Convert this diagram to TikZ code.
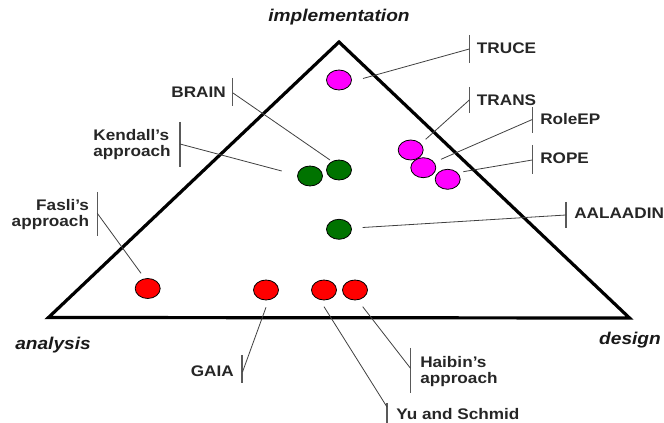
\documentclass[tikz,border=0pt]{standalone}
\usepackage{fontspec}
\setmainfont{Liberation Sans}[FakeStretch=1.12]
\usetikzlibrary{shapes.geometric}
\definecolor{dotgreen}{RGB}{0,115,0}
\definecolor{dotmag}{RGB}{255,0,255}
\definecolor{dotred}{RGB}{255,0,0}
\begin{document}
\begin{tikzpicture}[x=0.75pt,y=-0.75pt,
  tri/.style={line width=2.4pt, line join=miter},
  dot/.style={ellipse, draw=black, line width=0.6pt, inner sep=0pt,
    minimum width=18.75pt, minimum height=15pt},
  mag/.style={dot, fill=dotmag},
  grn/.style={dot, fill=dotgreen},
  rd/.style={dot, fill=dotred},
  lbl/.style={font=\bfseries\fontsize{11.5}{11.8}\selectfont, inner sep=0pt, text=black!85},
  axislbl/.style={font=\bfseries\itshape\fontsize{12.8}{15}\selectfont, inner sep=0pt, text=black!90},
  tick/.style={draw=black!65, line width=0.9pt},
  conn/.style={draw=black!75, line width=0.6pt}]
\useasboundingbox (0,0) rectangle (664,423);

% triangle
\coordinate (apex) at (339,42);
\coordinate (bl) at (48.5,317.5);
\coordinate (br) at (629.5,318);
\draw[tri] (apex) -- (bl) -- (br) -- cycle;

% axis labels
\node[axislbl] (impl) at (339,17) {implementation};
\node[axislbl] (ana) at (53,345) {analysis};
\node[axislbl] (des) at (630,340) {design};

% dots
\node[mag] (m1) at (339,80) {};
\node[mag] (m2) at (410.7,150) {};
\node[mag] (m3) at (423.3,167.7) {};
\node[mag] (m4) at (447.7,179.3) {};
\node[grn] (g1) at (339,170) {};
\node[grn] (g2) at (310,176) {};
\node[grn] (g3) at (339,229.3) {};
\node[rd] (r1) at (147.7,288.5) {};
\node[rd] (r2) at (266,290) {};
\node[rd] (r3) at (324,290) {};
\node[rd] (r4) at (355,290) {};

% labels
\node[lbl, anchor=base west] (truce) at (476.7,53.5) {TRUCE};
\node[lbl, anchor=base west] (trans) at (476.7,105.5) {TRANS};
\node[lbl, anchor=base west] (roleep) at (540,124.8) {RoleEP};
\node[lbl, anchor=base west] (rope) at (540,163.8) {ROPE};
\node[lbl, anchor=base west] (aalaadin) at (574,218.8) {AALAADIN};
\node[lbl, anchor=base east] (brain) at (226,97.5) {BRAIN};
\node[lbl, anchor=north east, align=left] (kendall) at (171,129.3) {Kendall's\\approach};
\node[lbl, anchor=north east, align=right] (fasli) at (89.3,199.3) {Fasli's\\approach};
\node[lbl, anchor=base east] (gaia) at (234,376.2) {GAIA};
\node[lbl, anchor=north west, align=left] (haibin) at (420,356.6) {Haibin's\\approach};
\node[lbl, anchor=base west] (yu) at (396,420) {Yu and Schmid};

% bars
\draw[tick] (469.3,35) -- (469.3,63);
\draw[tick] (469.3,87) -- (469.3,113);
\draw[tick] (532.3,107) -- (532.3,133);
\draw[tick] (532.3,145) -- (532.3,174);
\draw[tick] (566,202) -- (566,228);
\draw[tick] (232.7,78) -- (232.7,106);
\draw[tick] (180,122) -- (180,167);
\draw[tick] (97.3,192) -- (97.3,236);
\draw[tick] (242,355) -- (242,383);
\draw[tick] (410.5,348) -- (410.5,392.7);
\draw[tick] (387,403) -- (387,430);

% connector end points
\coordinate (truceB) at (469.3,49);
\coordinate (transB) at (469.3,100);
\coordinate (roleepB) at (532.3,119.5);
\coordinate (ropeB) at (532.3,160);
\coordinate (aalaadinB) at (566,215);
\coordinate (brainB) at (233,93);
\coordinate (kendallB) at (180,144);
\coordinate (fasliB) at (97.3,213.3);
\coordinate (gaiaB) at (242.5,372);
\coordinate (yuB) at (387,407);
\coordinate (haibinB) at (410.5,368.3);

\coordinate (m1E) at (363,78.5);
\coordinate (m2E) at (425.7,139.3);
\coordinate (m3E) at (441,159.3);
\coordinate (m4E) at (463.3,171.7);
\coordinate (g3E) at (362.7,227.5);
\coordinate (g1E) at (330,160);
\coordinate (g2E) at (281.7,171);
\coordinate (r1E) at (141,273.3);
\coordinate (r2E) at (266,307.3);
\coordinate (r3E) at (324,306.7);
\coordinate (r4E) at (362.7,306.7);

% connectors
\draw[conn] (truceB) -- (m1E);
\draw[conn] (transB) -- (m2E);
\draw[conn] (roleepB) -- (m3E);
\draw[conn] (ropeB) -- (m4E);
\draw[conn] (aalaadinB) -- (g3E);
\draw[conn] (brainB) -- (g1E);
\draw[conn] (kendallB) -- (g2E);
\draw[conn] (fasliB) -- (r1E);
\draw[conn] (gaiaB) -- (r2E);
\draw[conn] (yuB) -- (r3E);
\draw[conn] (haibinB) -- (r4E);
\end{tikzpicture}
\end{document}
